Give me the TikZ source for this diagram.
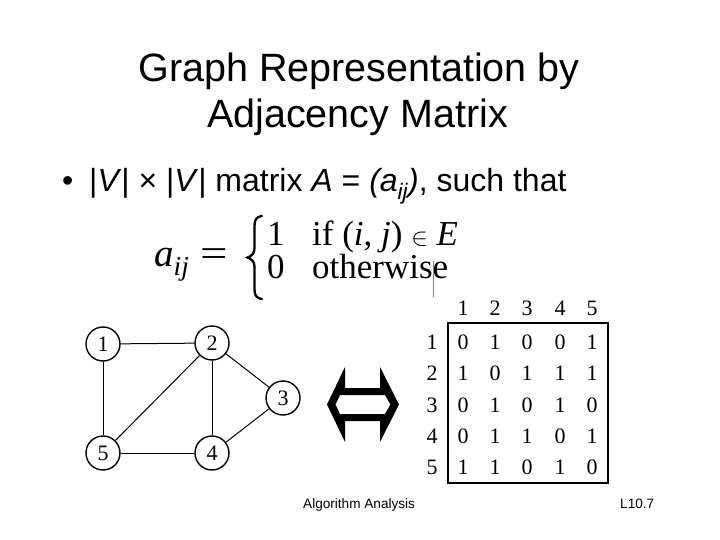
\documentclass[tikz,border=0pt]{standalone}
\usepackage{fontspec}
\usepackage{graphicx}
\setmainfont{Liberation Serif}
\setsansfont{Liberation Sans}
\begin{document}
\begin{tikzpicture}[x=1pt,y=-1pt,
  titletext/.style={font=\sffamily\fontsize{39.5}{44}\selectfont, anchor=base, inner sep=0},
  bullettext/.style={font=\sffamily\fontsize{32}{36}\selectfont, anchor=base west, inner sep=0},
  eqtext/.style={font=\fontsize{35}{38}\selectfont, anchor=base west, inner sep=0},
  gnode/.style={shape=circle, draw=black, line width=1.4pt, minimum size=34pt, inner sep=0pt, font=\fontsize{22}{24}\selectfont},
  gedge/.style={line width=1pt},
  mdigit/.style={font=\fontsize{22}{24}\selectfont, inner sep=0},
  foot/.style={font=\sffamily\fontsize{13.6}{16}\selectfont, anchor=base west, inner sep=0}]
\useasboundingbox (0,0) rectangle (720,540);
\fill[white] (0,0) rectangle (720,540);
% title
\node[titletext] (t1) at (359,82) {Graph Representation by};
\node[titletext] (t2) at (357.5,128) {Adjacency Matrix};
% bullet
\node[bullettext] (bul) at (62,192) {\textbullet};
\node[bullettext] (btext) at (89,192) {|\textit{V}| × |\textit{V}| matrix \textit{A} = \textit{(a\textsubscript{ij})}, such that};
% equation
\node[anchor=base west, inner sep=0, font=\fontsize{39}{42}\selectfont] (aij) at (154,266) {\textit{a}\textsubscript{\textit{ij}}};
\node[anchor=base west, inner sep=0, font=\fontsize{39}{42}\selectfont] (eqs) at (200,266) {\scalebox{1.25}[1]{=}};
\draw[line width=2.3pt, line cap=round]
  (262,216) .. controls (255,217) and (254.5,221) .. (254.5,227)
  -- (254.5,248) .. controls (254.5,253) and (252,256) .. (247.5,257.5)
  .. controls (252,259) and (254.5,262) .. (254.5,267)
  -- (254.5,288) .. controls (254.5,294) and (255,298) .. (262,299);
\node[eqtext] (one) at (267,245) {1};
\node[eqtext] (zero) at (267,278) {0};
\node[eqtext] (cond1) at (312,245) {if (\textit{i}, \textit{j}) $\in$ \textit{E}};
\node[eqtext] (cond2) at (312,278) {otherwise};
\coordinate (cur1) at (433,261);
\coordinate (cur2) at (433,297);
\draw[gray, line width=0.8pt] (cur1) -- (cur2);
% graph
\node[gnode] (v1) at (103,344) {1};
\node[gnode] (v2) at (212,343) {2};
\node[gnode] (v3) at (283,398) {3};
\node[gnode] (v4) at (212,453) {4};
\node[gnode] (v5) at (103,453) {5};
\draw[gedge] (v1) -- (v2);
\draw[gedge] (v1) -- (v5);
\draw[gedge] (v2) -- (v5);
\draw[gedge] (v2) -- (v4);
\draw[gedge] (v2) -- (v3);
\draw[gedge] (v3) -- (v4);
\draw[gedge] (v5) -- (v4);
% double arrow
\fill[black, even odd rule]
  (327,404.5) -- (345,367) -- (345,388) -- (380,388) -- (380,367) -- (399,404.5)
  -- (380,442) -- (380,421) -- (345,421) -- (345,442) -- cycle
  (335.5,404.5) -- (340,395) -- (385,395) -- (390.5,404.5) -- (385,414) -- (340,414) -- cycle;
% matrix
\foreach \c/\x in {1/463,2/495,3/527,4/560,5/592}{
  \node[mdigit] (h\c) at (\x,308) {\c};
}
\foreach \r/\y in {1/342,2/373,3/405,4/436,5/467}{
  \node[mdigit] (r\r) at (432,\y) {\r};
}
\foreach \row/\y/\a/\b/\cc/\d/\e in {1/342/0/1/0/0/1,2/373/1/0/1/1/1,3/405/0/1/0/1/0,4/436/0/1/1/0/1,5/467/1/1/0/1/0}{
  \node[mdigit] (m\row a) at (463,\y) {\a};
  \node[mdigit] (m\row b) at (495,\y) {\b};
  \node[mdigit] (m\row c) at (527,\y) {\cc};
  \node[mdigit] (m\row d) at (560,\y) {\d};
  \node[mdigit] (m\row e) at (592,\y) {\e};
}
\coordinate (boxa) at (448,323);
\coordinate (boxb) at (608,483);
\draw[line width=1.6pt] (boxa) rectangle (boxb);
% footer
\node[foot] (fa) at (303,508) {Algorithm Analysis};
\node[foot] (fb) at (620,508) {L10.7};
\end{tikzpicture}
\end{document}
